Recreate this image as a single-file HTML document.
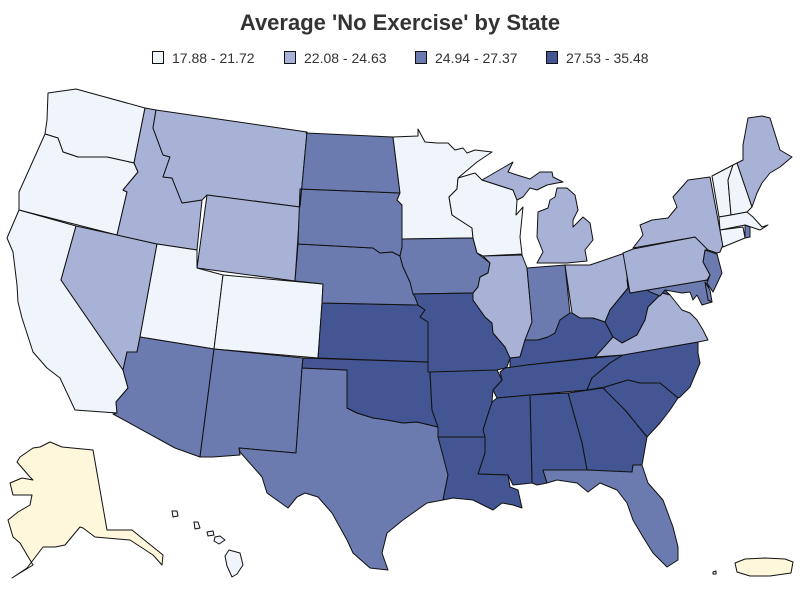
<!DOCTYPE html>
<html><head><meta charset="utf-8"><style>
body{margin:0;background:#fff;}
svg{display:block;}
text{font-family:"Liberation Sans",sans-serif;fill:#333;}
.a{fill:#f0f4fb}.b{fill:#a8b2d6}.c{fill:#6b7bb0}.d{fill:#435592}.e{fill:#fff7dc}
polygon{stroke:#111;stroke-width:1;stroke-linejoin:round}
</style></head><body>
<svg width="800" height="600" viewBox="0 0 800 600">
<text x="400" y="30" text-anchor="middle" font-size="22" font-weight="bold">Average 'No Exercise' by State</text>
<g font-size="14">
<rect x="152.5" y="51.5" width="11" height="12" class="a" stroke="#111"/><text x="172" y="63">17.88 - 21.72</text>
<rect x="284.5" y="51.5" width="11" height="12" class="b" stroke="#111"/><text x="304" y="63">22.08 - 24.63</text>
<rect x="415.5" y="51.5" width="11" height="12" class="c" stroke="#111"/><text x="435" y="63">24.94 - 27.37</text>
<rect x="546.5" y="51.5" width="11" height="12" class="d" stroke="#111"/><text x="566" y="63">27.53 - 35.48</text>
</g>
<!-- West -->
<polygon class="a" points="48,93 76,89 145,108 134,163 107,157 78,157 63,152 58,138 45,134 47,120"/>
<polygon class="a" points="45,134 58,138 63,152 78,157 107,157 134,163 138,172 123,190 127,192 117,235 19,210 19,192"/>
<polygon class="a" points="19,210 76,226 61,280 123,370 128,388 116,402 117,413 75,410 60,378 47,368 33,352 22,318 18,302 17,285 13,252 7,238"/>
<polygon class="b" points="76,226 117,235 157,244 140,337 137,352 127,352 123,370 61,280"/>
<polygon class="b" points="145,108 156,110 153,128 163,155 170,157 163,177 172,178 182,203 202,200 197,250 157,244 117,235 127,192 123,190 138,172 134,163"/>
<polygon class="b" points="156,110 307,132 300,207 207,195 202,200 182,203 172,178 163,177 170,157 163,155 153,128"/>
<polygon class="b" points="207,195 300,207 295,281 197,268"/>
<polygon class="a" points="157,244 197,250 197,268 223,275 214,349 140,337"/>
<polygon class="a" points="223,275 323,284 322,303 318,358 214,349"/>
<polygon class="c" points="137,352 140,337 214,349 200,457 175,448 113,414 117,413 116,402 128,388 123,370 127,352"/>
<polygon class="c" points="214,349 303,358 302,368 296,453 239,448 240,455 213,457 200,457"/>
<!-- Plains -->
<polygon class="c" points="302,368 347,370 347,408 357,413 373,418 387,420 403,423 417,422 438,427 439,437 448,475 443,500 427,503 403,520 387,533 382,553 388,570 370,568 353,553 347,540 332,513 318,497 305,493 297,497 288,508 267,493 262,477 240,452 239,448 296,453"/>
<polygon class="d" points="303,358 428,362 430,373 432,410 438,427 417,422 403,423 387,420 373,418 357,413 347,408 347,370 302,368"/>
<polygon class="d" points="322,303 418,305 425,310 420,317 428,322 428,362 318,358"/>
<polygon class="c" points="298,244 373,248 380,253 392,252 400,256 403,267 410,282 415,297 418,305 322,303 323,284 295,281"/>
<polygon class="c" points="300,189 400,193 397,200 402,205 402,247 400,256 392,252 380,253 373,248 298,244"/>
<polygon class="c" points="306,133 393,137 400,193 300,189 300,207 307,132"/>
<polygon class="a" points="393,137 418,136 418,129 425,142 437,143 448,143 455,150 463,148 467,153 475,150 492,152 477,162 458,178 457,189 449,197 452,215 472,228 473,238 402,239 402,205 397,200 400,193"/>
<polygon class="c" points="402,239 473,238 477,253 490,263 488,273 480,277 478,287 473,293 413,294 410,282 403,267 400,256 402,247"/>
<polygon class="a" points="458,178 475,173 482,180 513,190 517,200 516,215 523,207 520,237 522,254 483,256 477,253 473,238 472,228 452,215 449,197 457,189"/>
<polygon class="d" points="413,294 473,293 473,300 485,317 492,323 493,333 505,347 510,358 507,367 505,368 497,370 497,375 428,372 428,322 420,317 425,310 418,305 415,297"/>
<!-- Great Lakes states -->
<polygon class="b" points="482,180 508,165 513,162 508,172 517,175 530,179 540,172 552,172 553,177 563,182 557,183 547,185 537,190 530,188 523,197 517,200 513,190"/>
<polygon class="b" points="557,188 555,197 550,200 548,208 538,212 537,237 543,252 537,263 567,263 587,261 585,250 593,240 590,223 583,217 573,227 573,220 578,210 575,195 567,188"/>
<polygon class="b" points="483,256 522,255 527,268 532,322 525,340 520,357 510,358 505,347 493,333 492,323 485,317 473,300 473,293 478,287 480,277 488,273 490,263"/>
<polygon class="c" points="527,268 565,265 570,313 560,320 555,333 548,337 538,340 525,340 532,322"/>
<polygon class="b" points="565,265 590,265 625,253 628,288 610,310 605,322 593,318 580,318 572,313"/>
<!-- South -->
<polygon class="d" points="510,358 520,357 525,340 538,340 548,337 555,333 560,320 570,313 572,313 580,318 593,318 605,322 613,337 597,357 527,365 510,368"/>
<polygon class="d" points="505,368 527,365 593,358 623,355 610,363 592,378 587,390 497,398 493,390 502,380 500,372"/>
<polygon class="d" points="623,355 698,342 698,353 700,363 690,387 680,397 678,398 660,383 640,383 628,380 605,387 587,390 592,378 610,363"/>
<polygon class="d" points="605,387 628,380 640,383 660,383 678,398 670,410 660,423 647,437 625,410 603,390"/>
<polygon class="d" points="568,393 603,388 625,410 647,437 642,465 633,465 632,473 587,470 582,443"/>
<polygon class="d" points="530,395 568,393 582,443 587,470 543,470 547,483 537,485 532,483"/>
<polygon class="d" points="497,398 530,395 532,483 513,485 508,475 478,474 485,453 483,430 487,417 492,402"/>
<polygon class="d" points="438,437 485,437 485,453 478,474 508,475 510,487 518,490 522,508 513,505 502,503 493,510 487,507 473,500 453,498 443,500 448,475"/>
<polygon class="d" points="430,372 497,370 502,380 493,390 492,402 487,417 483,430 485,437 438,437 438,427 432,410"/>
<polygon class="c" points="543,470 587,470 632,472 633,465 642,465 648,483 663,500 673,527 678,547 678,560 667,567 653,553 643,537 633,520 627,503 617,490 600,483 588,492 577,483 557,480 547,483"/>
<!-- East -->
<polygon class="d" points="627,280 630,293 647,290 663,288 670,295 662,293 657,298 648,307 645,320 637,335 622,343 613,337 605,322 610,310 628,288"/>
<polygon class="b" points="595,357 613,337 622,343 637,335 645,320 648,307 657,298 662,293 670,295 682,310 690,313 697,320 703,330 708,340 698,342 623,355"/>
<polygon class="c" points="630,293 707,280 712,302 702,305 697,295 693,300 690,292 682,293 665,290 660,296 650,292 647,290"/>
<polygon class="c" points="705,282 708,300 712,302 710,290"/>
<polygon class="c" points="705,250 717,254 722,273 713,292 707,283 710,275 703,262"/>
<polygon class="b" points="623,253 633,249 695,237 702,243 708,250 705,250 703,262 710,275 707,280 630,293"/>
<polygon class="b" points="633,248 643,235 640,225 652,220 668,218 677,207 673,197 688,180 710,177 718,220 723,245 720,252 717,253 708,250 695,237"/>
<polygon class="a" points="712,176 733,165 728,180 731,215 719,217"/>
<polygon class="a" points="733,165 737,163 752,207 747,212 731,215 728,180"/>
<polygon class="b" points="737,163 743,160 743,145 748,118 762,116 770,118 780,150 792,157 780,167 770,173 762,183 757,193 752,207"/>
<polygon class="a" points="719,217 731,215 747,212 753,217 762,227 768,225 760,230 745,225 720,230"/>
<polygon class="a" points="720,230 743,227 745,238 723,247"/>
<polygon class="c" points="745,225 750,227 750,237 745,238"/>
<!-- Alaska -->
<polygon class="e" points="50,442 62,447 93,450 107,530 117,530 132,530 163,555 162,565 153,555 130,540 95,537 83,528 80,527 65,545 55,547 43,547 27,568 12,578 20,573 33,565 20,543 13,537 8,520 18,512 30,505 32,495 13,495 10,483 22,478 33,480 30,477 17,462 20,457 33,448 40,447"/>
<!-- Hawaii -->
<polygon class="a" points="172,511 177,511 178,516 173,517"/>
<polygon class="a" points="194,522 198,522 200,528 195,529"/>
<polygon class="a" points="207,532 213,531 214,535 208,536"/>
<polygon class="a" points="215,537 220,536 225,540 219,544 214,541"/>
<polygon class="a" points="229,550 240,553 243,565 237,574 232,577 227,566 225,556"/>
<!-- Puerto Rico -->
<polygon class="e" points="735,563 745,559 765,558 785,559 793,562 791,573 770,576 750,576 737,572"/>
<polygon class="e" points="713,572 716,571 716,574 713,574"/>
</svg>
</body></html>
